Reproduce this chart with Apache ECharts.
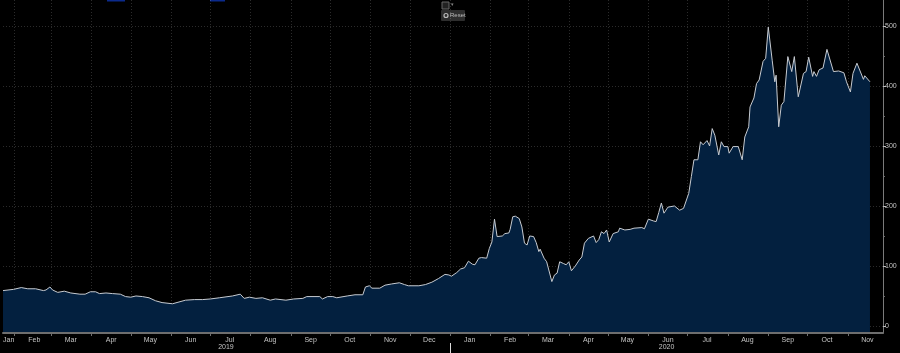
<!DOCTYPE html>
<html>
<head>
    <meta charset="utf-8">
    <title>Price history</title>
    <script src="https://cdn.jsdelivr.net/npm/echarts@6/dist/echarts.min.js"></script>
    <style>
        html, body { margin: 0; padding: 0; background: #000; }
        #main { width: 900px; height: 353px; }
    </style>
</head>
<body>
<div id="main"></div>
<script type="text/javascript">
    // visible date window of the chart
    var startDay = '2019-01-23';
    var endDay = '2020-11-28';

    // price readings (date, value)
    var priceDates = [
        '2019-01-23','2019-01-31','2019-02-06','2019-02-11','2019-02-17','2019-02-23','2019-02-25','2019-02-28',
        '2019-03-02','2019-03-06','2019-03-11','2019-03-16','2019-03-23','2019-03-27','2019-03-31','2019-04-04',
        '2019-04-07','2019-04-12','2019-04-17','2019-04-23','2019-04-27','2019-05-01','2019-05-05','2019-05-10',
        '2019-05-15','2019-05-20','2019-05-25','2019-06-02','2019-06-07','2019-06-12','2019-06-19','2019-06-25',
        '2019-07-01','2019-07-08','2019-07-18','2019-07-24','2019-07-27','2019-07-31','2019-08-05','2019-08-10',
        '2019-08-16','2019-08-20','2019-08-28','2019-09-03','2019-09-10','2019-09-13','2019-09-23','2019-09-25',
        '2019-09-29','2019-10-03','2019-10-06','2019-10-14','2019-10-20','2019-10-26','2019-10-28','2019-10-31',
        '2019-11-02','2019-11-08','2019-11-12','2019-11-17','2019-11-23','2019-11-27','2019-11-30','2019-12-08',
        '2019-12-13','2019-12-18','2019-12-23','2019-12-28','2019-12-31','2020-01-02','2020-01-06','2020-01-09',
        '2020-01-12','2020-01-13','2020-01-15','2020-01-18','2020-01-20','2020-01-23','2020-01-25','2020-01-29',
        '2020-01-31','2020-02-02','2020-02-04','2020-02-06','2020-02-10','2020-02-12','2020-02-15','2020-02-16',
        '2020-02-18','2020-02-20','2020-02-23','2020-02-25','2020-02-27','2020-02-29','2020-03-02','2020-03-05',
        '2020-03-07','2020-03-09','2020-03-10','2020-03-13','2020-03-15','2020-03-19','2020-03-21','2020-03-23',
        '2020-03-25','2020-03-28','2020-03-30','2020-04-01','2020-04-03','2020-04-06','2020-04-09','2020-04-11',
        '2020-04-13','2020-04-16','2020-04-20','2020-04-22','2020-04-24','2020-04-26','2020-04-28','2020-04-30',
        '2020-05-02','2020-05-05','2020-05-09','2020-05-10','2020-05-14','2020-05-18','2020-05-21','2020-05-27',
        '2020-05-29','2020-06-01','2020-06-05','2020-06-07','2020-06-09','2020-06-11','2020-06-13','2020-06-16',
        '2020-06-21','2020-06-25','2020-06-28','2020-06-29','2020-07-02','2020-07-04','2020-07-06','2020-07-09',
        '2020-07-11','2020-07-13','2020-07-16','2020-07-18','2020-07-20','2020-07-22','2020-07-23','2020-07-25',
        '2020-07-27','2020-07-29','2020-08-01','2020-08-02','2020-08-05','2020-08-09','2020-08-12','2020-08-14',
        '2020-08-17','2020-08-18','2020-08-21','2020-08-23','2020-08-25','2020-08-28','2020-08-30','2020-09-01',
        '2020-09-04','2020-09-06','2020-09-07','2020-09-09','2020-09-11','2020-09-13','2020-09-16','2020-09-19',
        '2020-09-21','2020-09-24','2020-09-28','2020-09-30','2020-10-02','2020-10-05','2020-10-06','2020-10-08',
        '2020-10-10','2020-10-13','2020-10-16','2020-10-21','2020-10-25','2020-10-29','2020-10-31','2020-11-03',
        '2020-11-05','2020-11-08','2020-11-13','2020-11-14','2020-11-18'
    ];
    var priceValues = [
        59, 61, 64, 62, 62, 59, 60, 65,
        60, 56, 58, 55, 53, 53, 57, 57,
        54, 55, 54, 53, 49, 48, 50, 49,
        47, 42, 39, 37, 40, 43, 44, 44,
        45, 47, 50, 53, 46, 48, 46, 47,
        43, 45, 43, 45, 46, 49, 49, 45,
        49, 49, 47, 50, 52, 52, 65, 67,
        63, 63, 68, 70, 72, 69, 67, 67,
        69, 73, 79, 86, 85, 83, 89, 95,
        97, 94, 108, 103, 102, 113, 114, 113,
        129, 140, 178, 149, 150, 154, 155, 161,
        182, 183, 179, 165, 138, 135, 150, 149,
        139, 124, 128, 113, 107, 74, 85, 88,
        107, 104, 102, 107, 92, 100, 110, 115,
        138, 146, 150, 139, 144, 157, 154, 160,
        140, 154, 157, 163, 160, 161, 163, 164,
        162, 178, 175, 174, 189, 205, 188, 198,
        200, 193, 196, 194, 221, 249, 277, 277,
        307, 302, 309, 300, 329, 318, 315, 285,
        307, 299, 299, 288, 299, 299, 277, 315,
        332, 365, 380, 404, 410, 441, 446, 498,
        443, 407, 418, 332, 368, 374, 449, 424,
        449, 382, 421, 424, 448, 416, 424, 416,
        427, 430, 461, 424, 425, 422, 407, 390,
        421, 438, 411, 417, 407
    ];

    var monthNames = ['Jan', 'Feb', 'Mar', 'Apr', 'May', 'Jun', 'Jul', 'Aug', 'Sep', 'Oct', 'Nov', 'Dec'];
    var yearLabelDays = ['2019-07-13', '2020-06-15'];
    var yearBreakDays = ['2020-01-01'];
    var yTickValues = [0, 100, 200, 300, 400, 500];
    var yMinorValues = [50, 150, 250, 350, 450];

    // one category per calendar day
    var days = [];
    var d = new Date(startDay + 'T00:00:00Z');
    var last = new Date(endDay + 'T00:00:00Z');
    while (d <= last) {
        days.push(d.toISOString().slice(0, 10));
        d.setUTCDate(d.getUTCDate() + 1);
    }

    var seriesData = priceDates.map(function (day, i) {
        return [day, priceValues[i]];
    });

    var gridColor = 'rgba(255,255,255,0.17)';
    var textColor = '#c4c4c4';
    var font = 'Liberation Sans';

    var myChart = echarts.init(document.getElementById('main'));

    var option = {
        backgroundColor: '#000',
        animation: false,
        grid: { left: 0, right: 17, top: 0, bottom: 20 },
        xAxis: [{
            type: 'category',
            data: days,
            boundaryGap: false,
            z: 3,
            axisLine: { onZero: false, lineStyle: { color: '#6e6e6e', width: 2 } },
            axisTick: {
                length: 3,
                lineStyle: { color: '#6e6e6e' },
                interval: function (index, value) { return value.slice(8) === '01'; }
            },
            splitLine: {
                show: true,
                lineStyle: { color: gridColor, type: [1, 2], width: 1 },
                interval: function (index, value) { return value.slice(8) === '01'; }
            },
            axisLabel: {
                color: textColor,
                fontSize: 7,
                fontFamily: font,
                margin: 4,
                alignMinLabel: 'left',
                interval: function (index, value) { return index === 0 || value.slice(8) === '16'; },
                formatter: function (value) { return monthNames[parseInt(value.slice(5, 7), 10) - 1]; }
            }
        }, {
            type: 'category',
            data: days,
            boundaryGap: false,
            position: 'bottom',
            offset: 10,
            axisLine: { show: false, onZero: false },
            axisTick: {
                length: 10,
                lineStyle: { color: '#dddddd' },
                interval: function (index, value) { return yearBreakDays.indexOf(value) >= 0; }
            },
            splitLine: { show: false },
            axisLabel: {
                color: textColor,
                fontSize: 7,
                fontFamily: font,
                margin: 1,
                interval: function (index, value) { return yearLabelDays.indexOf(value) >= 0; },
                formatter: function (value) { return value.slice(0, 4); }
            }
        }],
        yAxis: [{
            type: 'value',
            position: 'right',
            min: -11.7,
            max: 543.3,
            z: 3,
            axisLine: { show: true, onZero: false, lineStyle: { color: '#7a7a7a', width: 1 } },
            axisTick: { show: true, length: 3, customValues: yTickValues, lineStyle: { color: '#bdbdbd' } },
            axisLabel: { color: textColor, fontSize: 7, fontFamily: font, margin: 2, customValues: yTickValues },
            splitLine: { show: true, lineStyle: { color: gridColor, type: [1, 2], width: 1 } }
        }, {
            type: 'value',
            position: 'right',
            min: -11.7,
            max: 543.3,
            axisLine: { show: false, onZero: false },
            axisTick: { show: true, length: 2, customValues: yMinorValues, lineStyle: { color: '#666' } },
            axisLabel: { show: false },
            splitLine: { show: false }
        }],
        series: [{
            name: 'Price',
            type: 'line',
            data: seriesData,
            xAxisIndex: 0,
            yAxisIndex: 0,
            symbol: 'none',
            lineStyle: { color: '#c7cbd1', width: 1 },
            areaStyle: { color: '#03203f', opacity: 1, origin: 'start' }
        }],
        graphic: [
            // leftover toolbar bits at the top
            { type: 'rect', shape: { x: 107, y: 0, width: 18, height: 1.5 }, style: { fill: '#0b2a8c' } },
            { type: 'rect', shape: { x: 210, y: 0, width: 15, height: 1.5 }, style: { fill: '#0b2a8c' } },
            { type: 'rect', shape: { x: 442, y: 2, width: 7, height: 7 }, style: { fill: '#222', stroke: '#666', lineWidth: 1 } },
            { type: 'text', left: 451, top: 2, style: { text: '▾', fill: '#888', fontSize: 5 } },
            { type: 'rect', shape: { x: 441, y: 10, width: 24, height: 11, r: 1 }, style: { fill: '#2e2e2e' } },
            { type: 'circle', shape: { cx: 446, cy: 15.5, r: 2 }, style: { fill: 'none', stroke: '#bbb', lineWidth: 1.2 } },
            { type: 'text', left: 450, top: 12, style: { text: 'Reset', fill: '#bbb', fontSize: 6, fontFamily: font } }
        ]
    };

    myChart.setOption(option);
</script>
</body>
</html>
